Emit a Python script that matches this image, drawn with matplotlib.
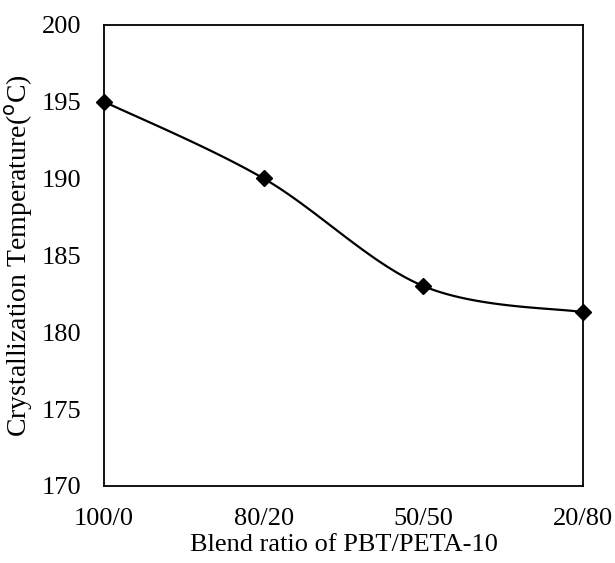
import numpy as np
import matplotlib
matplotlib.use("Agg")
import matplotlib.pyplot as plt

# Crystallization temperature of PBT/PETA-10 blends
blend_ratios = ["100/0", "80/20", "50/50", "20/80"]
cryst_temp = [195.0, 190.0, 183.0, 181.3]
y_ticks = [170, 175, 180, 185, 190, 195, 200]

plt.rcParams["font.family"] = ["Liberation Serif", "DejaVu Serif"]

fig = plt.figure(figsize=(6.15, 5.63), dpi=100)
ax = fig.add_axes([0.169, 0.137, 0.779, 0.819])

x = np.arange(len(blend_ratios), dtype=float)
y = np.array(cryst_temp)


def smooth_curve(xs, ys, n=40):
    """Catmull-Rom style smoothed line through the points (cubic Bezier segments)."""
    px = np.concatenate([[xs[0]], xs, [xs[-1]]])
    py = np.concatenate([[ys[0]], ys, [ys[-1]]])
    out_x, out_y = [], []
    t = np.linspace(0, 1, n)
    for i in range(1, len(px) - 2):
        p0 = np.array([px[i], py[i]])
        p3 = np.array([px[i + 1], py[i + 1]])
        c1 = p0 + (np.array([px[i + 1], py[i + 1]]) - np.array([px[i - 1], py[i - 1]])) / 6
        c2 = p3 - (np.array([px[i + 2], py[i + 2]]) - np.array([px[i], py[i]])) / 6
        b = ((1 - t) ** 3)[:, None] * p0 + (3 * (1 - t) ** 2 * t)[:, None] * c1 \
            + (3 * (1 - t) * t ** 2)[:, None] * c2 + (t ** 3)[:, None] * p3
        out_x.extend(b[:, 0])
        out_y.extend(b[:, 1])
    return np.array(out_x), np.array(out_y)


sx, sy = smooth_curve(x, y)
ax.plot(sx, sy, color="black", linewidth=1.6, clip_on=False, zorder=3)
ax.plot(x, y, linestyle="none", marker="D", markersize=8.5, color="black",
        clip_on=False, zorder=4)

ax.set_xlim(0, len(blend_ratios) - 1)
ax.set_ylim(170, 200)
ax.set_xticks(x)
ax.set_xticklabels(blend_ratios)
ax.set_yticks(y_ticks)
ax.tick_params(axis="both", length=0, labelsize=19)
ax.tick_params(axis="y", pad=16)
ax.tick_params(axis="x", pad=16)

for sp in ax.spines.values():
    sp.set_linewidth(1.3)
    sp.set_color("black")

ax.set_xlabel("Blend ratio of PBT/PETA-10", fontsize=19, labelpad=3)
ax.set_ylabel("Crystallization Temperature($^{\\rm o}$C)", fontsize=20, labelpad=5)

fig.savefig("out.png", dpi=100)
